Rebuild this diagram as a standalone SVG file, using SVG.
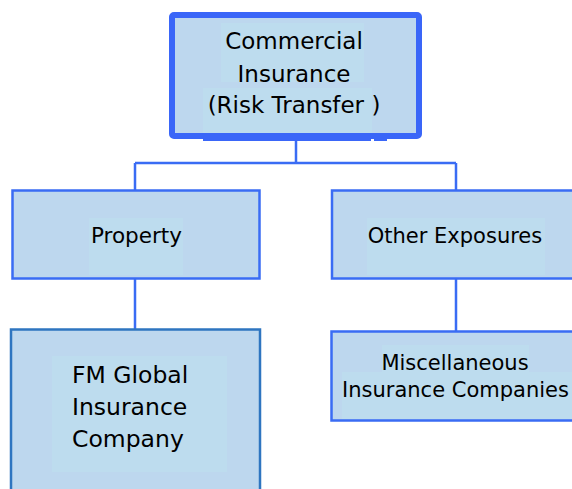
<svg xmlns="http://www.w3.org/2000/svg" width="572" height="489" viewBox="0 0 572 489">
  <style>
    .box { fill: #bdd7ee; stroke: #3a6cf4; stroke-width: 2.5; }
    .box-alt { fill: #bdd7ee; stroke: #2e75c0; stroke-width: 2.5; }
    .txtbg { fill: #bddcee; }
    .lbl { font-family: "DejaVu Sans", Verdana, sans-serif; fill: #000; }
    .mid { text-anchor: middle; }
    .link { fill: none; stroke: #3a6cf4; stroke-width: 2.5; }
  </style>

  <!-- connectors -->
  <g id="connectors">
    <path class="link" d="M296 139 V163 M135 163 H456 M135 163 V191 M456 163 V191"/>
    <path class="link" d="M135 279 V330 M456 279 V332"/>
  </g>

  <!-- root -->
  <g id="commercial-insurance">
    <rect x="172" y="15" width="247" height="121" rx="2" fill="#bdd7ee" stroke="#3a66f8" stroke-width="6"/>
    <rect class="txtbg" x="221" y="23" width="143" height="59"/>
    <rect class="txtbg" x="203" y="88" width="169" height="45"/>
    <rect x="203" y="136" width="168" height="5" fill="#3a66f8"/>
    <rect x="374" y="136" width="13" height="5" fill="#3a66f8"/>
    <text class="lbl mid" x="294" y="49" font-size="23">Commercial</text>
    <text class="lbl mid" x="294" y="82" font-size="23">Insurance</text>
    <text class="lbl mid" x="294" y="113" font-size="23">(Risk Transfer )</text>
  </g>

  <!-- second level -->
  <g id="property">
    <rect class="box" x="12.5" y="190.5" width="247" height="88"/>
    <rect class="txtbg" x="89" y="218" width="94" height="57"/>
    <text class="lbl mid" x="136.5" y="243" font-size="21.5">Property</text>
  </g>

  <g id="other-exposures">
    <rect class="box" x="332" y="190.5" width="260" height="88"/>
    <rect class="txtbg" x="367" y="218" width="178" height="57"/>
    <text class="lbl mid" x="455" y="243" font-size="21">Other Exposures</text>
  </g>

  <!-- third level -->
  <g id="fm-global">
    <rect class="box-alt" x="11" y="329.5" width="249" height="180"/>
    <rect class="txtbg" x="52" y="356" width="175" height="116"/>
    <text class="lbl" x="72" y="383" font-size="23.5">FM Global</text>
    <text class="lbl" x="72" y="415" font-size="23.5">Insurance</text>
    <text class="lbl" x="72" y="447" font-size="23.5">Company</text>
  </g>

  <g id="misc-companies">
    <rect class="box" x="331.5" y="331.5" width="260" height="89"/>
    <rect class="txtbg" x="382" y="345" width="147" height="27"/>
    <rect class="txtbg" x="342" y="372" width="240" height="47"/>
    <text class="lbl mid" x="455" y="370" font-size="21">Miscellaneous</text>
    <text class="lbl mid" x="455.5" y="397" font-size="21">Insurance Companies</text>
  </g>
</svg>
